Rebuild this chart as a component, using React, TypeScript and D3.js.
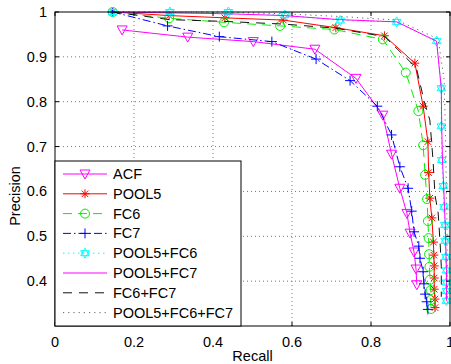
import React from 'react';
import * as d3 from 'd3';

const width = 451;
const height = 364;
const margin = { top: 12, right: 1, bottom: 38, left: 55 };

// precision / recall
const acfRecall = [0.170, 0.336, 0.502, 0.658, 0.762, 0.830, 0.852, 0.873, 0.891, 0.899, 0.909, 0.914, 0.916];
const acfPrecision = [0.960, 0.944, 0.934, 0.917, 0.852, 0.770, 0.683, 0.607, 0.551, 0.507, 0.465, 0.427, 0.392];

const pool5Recall = [0.146, 0.289, 0.430, 0.578, 0.711, 0.834, 0.911, 0.932, 0.944, 0.946, 0.949, 0.954, 0.958, 0.959, 0.960, 0.960, 0.960, 0.962, 0.962];
const pool5Precision = [1.0, 0.992, 0.987, 0.982, 0.965, 0.947, 0.886, 0.790, 0.711, 0.642, 0.585, 0.541, 0.487, 0.458, 0.434, 0.407, 0.382, 0.360, 0.341];

const fc6Recall = [0.146, 0.289, 0.428, 0.570, 0.707, 0.830, 0.888, 0.920, 0.932, 0.937, 0.942, 0.944, 0.946, 0.947, 0.948, 0.949, 0.951, 0.951, 0.952];
const fc6Precision = [1.0, 0.986, 0.977, 0.969, 0.961, 0.939, 0.865, 0.779, 0.703, 0.637, 0.583, 0.534, 0.496, 0.460, 0.432, 0.403, 0.380, 0.358, 0.338];

const fc7Recall = [0.146, 0.285, 0.416, 0.549, 0.661, 0.747, 0.816, 0.852, 0.873, 0.894, 0.903, 0.909, 0.921, 0.924, 0.932, 0.934, 0.937, 0.941, 0.944];
const fc7Precision = [1.0, 0.969, 0.945, 0.934, 0.895, 0.847, 0.790, 0.726, 0.655, 0.607, 0.556, 0.510, 0.478, 0.451, 0.421, 0.394, 0.371, 0.354, 0.337];

const p5fc6Recall = [0.146, 0.291, 0.439, 0.582, 0.722, 0.865, 0.966, 0.978, 0.978, 0.979, 0.983, 0.985, 0.987, 0.988, 0.990, 0.991, 0.991, 0.991, 0.991];
const p5fc6Precision = [1.0, 1.0, 1.0, 0.993, 0.981, 0.978, 0.935, 0.830, 0.745, 0.670, 0.612, 0.565, 0.525, 0.490, 0.454, 0.424, 0.397, 0.378, 0.356];

const p5fc7Recall = [0.146, 0.29, 0.44, 0.58, 0.72, 0.865, 0.966, 0.978, 0.979, 0.981, 0.984, 0.986, 0.988, 0.989, 0.990, 0.991, 0.991, 0.991, 0.991];
const p5fc7Precision = [1.0, 0.998, 0.996, 0.992, 0.983, 0.978, 0.935, 0.830, 0.745, 0.670, 0.612, 0.565, 0.525, 0.490, 0.454, 0.424, 0.397, 0.378, 0.356];

const fc6fc7Recall = [0.146, 0.29, 0.43, 0.58, 0.71, 0.835, 0.915, 0.935, 0.949, 0.957, 0.962, 0.970, 0.975, 0.978, 0.978];
const fc6fc7Precision = [1.0, 0.983, 0.979, 0.973, 0.964, 0.945, 0.875, 0.80, 0.759, 0.670, 0.592, 0.552, 0.485, 0.432, 0.365];

const allRecall = [0.146, 0.29, 0.44, 0.58, 0.72, 0.865, 0.97, 0.985, 0.988, 0.99, 0.992, 0.993, 0.994];
const allPrecision = [1.0, 1.0, 1.0, 0.996, 0.99, 0.982, 0.94, 0.85, 0.75, 0.65, 0.55, 0.45, 0.35];

const xTicks = [0, 0.2, 0.4, 0.6, 0.8, 1];
const yTicks = [0.4, 0.5, 0.6, 0.7, 0.8, 0.9, 1];

type Marker = 'triangle' | 'asterisk' | 'circle' | 'plus' | 'hexagram' | 'none';

const series = [
  { name: 'ACF', r: acfRecall, p: acfPrecision, color: '#ff00ff', dash: '', marker: 'triangle' as Marker },
  { name: 'POOL5', r: pool5Recall, p: pool5Precision, color: '#ff0000', dash: '', marker: 'asterisk' as Marker },
  { name: 'FC6', r: fc6Recall, p: fc6Precision, color: '#00f000', dash: '9 6', marker: 'circle' as Marker },
  { name: 'FC7', r: fc7Recall, p: fc7Precision, color: '#0000ff', dash: '8 3 1.5 3', marker: 'plus' as Marker },
  { name: 'POOL5+FC6', r: p5fc6Recall, p: p5fc6Precision, color: '#00ffff', dash: '1.5 3.5', marker: 'hexagram' as Marker },
  { name: 'POOL5+FC7', r: p5fc7Recall, p: p5fc7Precision, color: '#ff00ff', dash: '', marker: 'none' as Marker },
  { name: 'FC6+FC7', r: fc6fc7Recall, p: fc6fc7Precision, color: '#111111', dash: '9 7', marker: 'none' as Marker },
  { name: 'POOL5+FC6+FC7', r: allRecall, p: allPrecision, color: '#666666', dash: '1.2 4', marker: 'none' as Marker },
];

const markerPath = (m: Marker, x: number, y: number): string => {
  const s = 4.5;
  switch (m) {
    case 'triangle':
      return `M${x - s - 0.5},${y - s + 0.5}L${x + s + 0.5},${y - s + 0.5}L${x},${y + s + 0.5}Z`;
    case 'circle':
      return `M${x - s},${y}A${s},${s} 0 1,0 ${x + s},${y}A${s},${s} 0 1,0 ${x - s},${y}Z`;
    case 'plus':
      return `M${x - s - 0.5},${y}L${x + s + 0.5},${y}M${x},${y - s - 0.5}L${x},${y + s + 0.5}`;
    case 'asterisk': {
      const d = s * 0.72;
      return `M${x - s},${y}L${x + s},${y}M${x},${y - s}L${x},${y + s}M${x - d},${y - d}L${x + d},${y + d}M${x - d},${y + d}L${x + d},${y - d}`;
    }
    case 'hexagram': {
      const r = 5;
      const pts = (a0: number) => [0, 1, 2].map(i => {
        const a = a0 + i * 2 * Math.PI / 3;
        return `${x + r * Math.cos(a)},${y + r * Math.sin(a)}`;
      });
      const up = pts(-Math.PI / 2);
      const dn = pts(Math.PI / 2);
      return `M${up.join('L')}ZM${dn.join('L')}Z`;
    }
    default:
      return '';
  }
};

const App = () => {
  const xScale = d3.scaleLinear().domain([0, 1]).range([margin.left, width - margin.right]);
  const yScale = d3.scaleLinear().domain([0.3, 1]).range([height - margin.bottom, margin.top]);
  const x0 = xScale.range()[0];
  const x1 = xScale.range()[1];
  const y0 = yScale.range()[0];
  const y1 = yScale.range()[1];

  const line = d3.line<[number, number]>()
    .x(d => xScale(d[0]))
    .y(d => yScale(d[1]));

  const font = '"Liberation Sans", Arial, Helvetica, sans-serif';

  const legend = { x: x0, y: 161, w: 186, h: y0 - 161 };

  return (
    <svg width={width} height={height} style={{ position: 'absolute', left: 0, top: 0 }} fontFamily={font}>
      <rect x={0} y={0} width={width} height={height} fill="#fff" />
      {/* grid */}
      {xTicks.filter(t => t > 0 && t < 1).map(t => (
        <line key={'gx' + t} x1={xScale(t)} x2={xScale(t)} y1={y0} y2={y1} stroke="#777" strokeWidth={1} strokeDasharray="1 3" />
      ))}
      {yTicks.filter(t => t < 1).map(t => (
        <line key={'gy' + t} x1={x0} x2={x1} y1={yScale(t)} y2={yScale(t)} stroke="#777" strokeWidth={1} strokeDasharray="1 3" />
      ))}
      {/* series */}
      {series.map(s => {
        const pts = s.r.map((r, i) => [r, s.p[i]] as [number, number]);
        return (
          <g key={s.name}>
            <path d={line(pts) || ''} fill="none" stroke={s.color} strokeWidth={1} strokeDasharray={s.dash || undefined} />
            {s.marker !== 'none' && pts.map((d, i) => (
              <path key={i} d={markerPath(s.marker, xScale(d[0]), yScale(d[1]))} fill="none" stroke={s.color} strokeWidth={1} />
            ))}
          </g>
        );
      })}
      {/* axes box and ticks */}
      <rect x={x0} y={y1} width={x1 - x0} height={y0 - y1} fill="none" stroke="#000" strokeWidth={1} />
      {xTicks.map(t => (
        <g key={'tx' + t}>
          <line x1={xScale(t)} x2={xScale(t)} y1={y0} y2={y0 - 4} stroke="#000" />
          <line x1={xScale(t)} x2={xScale(t)} y1={y1} y2={y1 + 4} stroke="#000" />
          <text x={xScale(t)} y={y0 + 21} textAnchor="middle" fontSize={14.5}>{t === 0 || t === 1 ? String(t) : t.toFixed(1)}</text>
        </g>
      ))}
      {yTicks.map(t => (
        <g key={'ty' + t}>
          <line x1={x0} x2={x0 + 4} y1={yScale(t)} y2={yScale(t)} stroke="#000" />
          <line x1={x1} x2={x1 - 4} y1={yScale(t)} y2={yScale(t)} stroke="#000" />
          <text x={x0 - 8} y={yScale(t) + 5} textAnchor="end" fontSize={14.5}>{t === 1 ? '1' : t.toFixed(1)}</text>
        </g>
      ))}
      <text x={xScale(0.5)} y={height - 3} textAnchor="middle" fontSize={14.5}>Recall</text>
      <text transform={`translate(20,${196}) rotate(-90)`} textAnchor="middle" fontSize={14.5}>Precision</text>
      {/* legend */}
      <rect x={legend.x} y={legend.y} width={legend.w} height={legend.h} fill="#fff" stroke="#000" strokeWidth={1} />
      {series.map((s, i) => {
        const cy = legend.y + 13 + i * 19.8;
        return (
          <g key={'lg' + s.name}>
            <line x1={legend.x + 8} x2={legend.x + 52} y1={cy} y2={cy} stroke={s.color} strokeWidth={1} strokeDasharray={s.dash || undefined} />
            {s.marker !== 'none' && (
              <path d={markerPath(s.marker, legend.x + 30, cy)} fill="none" stroke={s.color} strokeWidth={1} />
            )}
            <text x={legend.x + 58} y={cy + 5} fontSize={14.5}>{s.name}</text>
          </g>
        );
      })}
    </svg>
  );
};

export default App;
